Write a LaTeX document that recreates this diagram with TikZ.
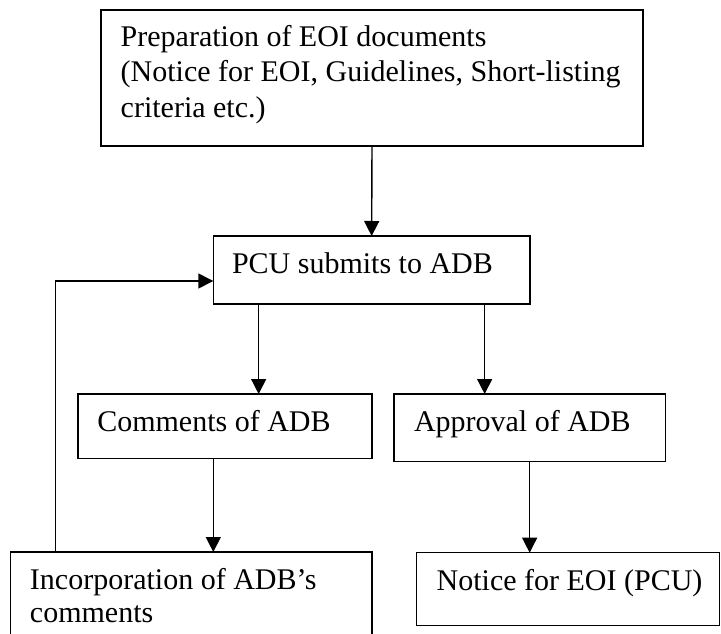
\documentclass[tikz,border=0pt]{standalone}
\usepackage{fontspec}
\setmainfont{Liberation Serif}
\usetikzlibrary{arrows.meta}
\begin{document}
\begin{tikzpicture}[x=1pt,y=-1pt,
  box/.style={draw=black,line width=1.4pt,rectangle,inner sep=0pt,outer sep=0pt,anchor=north west},
  lbl/.style={inner sep=0pt,outer sep=0pt,anchor=base west,align=left,font=\fontsize{30}{35.3}\selectfont},
  arr/.style={line width=1.4pt,-{Triangle[length=15pt,width=15pt]}}]
\fill[white] (0,0) rectangle (721,634);
\useasboundingbox (0,0) rectangle (721,634);
% boxes
\node[box,minimum width=542pt,minimum height=136pt] (top) at (101,10) {};
\node[box,minimum width=316.7pt,minimum height=68pt] (pcu) at (213.3,236) {};
\node[box,minimum width=294pt,minimum height=64.3pt] (com) at (78,394) {};
\node[box,minimum width=271.3pt,minimum height=67.7pt] (app) at (394,394) {};
\node[box,minimum width=361.3pt,minimum height=110pt] (inc) at (10.7,552) {};
\node[box,minimum width=302.8pt,minimum height=73pt] (noti) at (416.7,552.7) {};
% texts
\node[lbl] (topt1) at (120.7,46.7) {Preparation of EOI documents};
\node[lbl] (topt2) at (120.7,82) {(Notice for EOI, Guidelines, Short-listing};
\node[lbl] (topt3) at (120.7,117.3) {criteria etc.)};
\node[lbl] (pcut) at (232,273) {PCU submits to ADB};
\node[lbl] (comt) at (97.3,431.7) {Comments of ADB};
\node[lbl] (appt) at (414,431.7) {Approval of ADB};
\node[lbl] (inct1) at (30,589) {Incorporation of ADB’s};
\node[lbl] (inct2) at (30,622.5) {comments};
\node[lbl] (notit) at (436.7,590.7) {Notice for EOI (PCU)};
% connectors
\draw[arr] (top.south) -- (pcu.north);
\draw[arr] ([xshift=-113pt]pcu.south) -- ([xshift=-113pt]pcu.south |- com.north);
\draw[arr] ([xshift=113pt]pcu.south) -- ([xshift=113pt]pcu.south |- app.north);
\draw[arr] ([xshift=-11.7pt]com.south) -- ([xshift=-11.7pt]com.south |- inc.north);
\draw[arr] (app.south) -- (app.south |- noti.north);
\draw[arr] ([xshift=44.6pt]inc.north west) |- ([yshift=-11pt]pcu.west);
\end{tikzpicture}
\end{document}
